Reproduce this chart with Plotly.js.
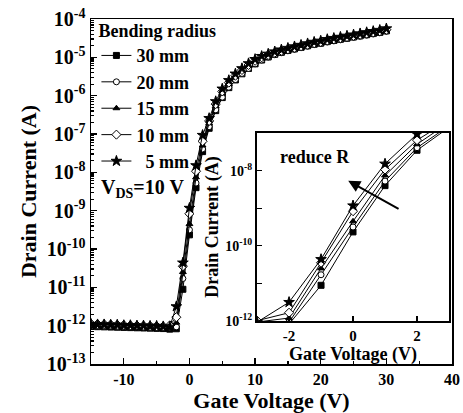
<!DOCTYPE html>
<html>
<head>
<meta charset="utf-8">
<script src="https://cdn.plot.ly/plotly-3.0.1.min.js"></script>
<style>
  html, body { margin: 0; padding: 0; background: #fff; }
  #chart { width: 463px; height: 413px; }
</style>
</head>
<body>
<div id="chart"></div>
<script>
// Gate voltage sweep (V)
const gateVoltage = [-15, -14, -13, -12, -11, -10, -9, -8, -7, -6, -5, -4, -3,
  -2, -1, 0, 1, 2, 3, 4, 5, 6, 7, 8, 9, 10, 11, 12, 13, 14, 15, 16, 17, 18, 19, 20,
  21, 22, 23, 24, 25, 26, 27, 28, 29, 30];

// Drain current (A) for each bending radius, VDS = 10 V
const current30mm = [9.6e-13, 9.4e-13, 9.3e-13, 9.2e-13, 9.1e-13, 9.0e-13, 8.9e-13, 8.8e-13, 8.7e-13, 8.6e-13, 8.5e-13, 8.4e-13, 8.1e-13,
  8.3e-13, 8.9e-12, 2.34e-10, 3.98e-9, 3.47e-8, 1.41e-7, 4.07e-7, 8.91e-7, 1.62e-6, 2.57e-6, 3.72e-6, 5.13e-6, 6.76e-6,
  8.51e-6, 1.02e-5, 1.20e-5, 1.35e-5, 1.51e-5, 1.66e-5, 1.82e-5, 2.00e-5, 2.19e-5, 2.34e-5,
  2.57e-5, 2.75e-5, 2.95e-5, 3.16e-5, 3.39e-5, 3.63e-5, 3.89e-5, 4.17e-5, 4.47e-5, 4.90e-5];

const current20mm = [1.00e-12, 9.8e-13, 9.7e-13, 9.6e-13, 9.5e-13, 9.4e-13, 9.3e-13, 9.2e-13, 9.1e-13, 9.0e-13, 8.9e-13, 8.8e-13, 8.9e-13,
  9.3e-13, 1.70e-11, 3.16e-10, 5.25e-9, 4.07e-8, 1.55e-7, 4.27e-7, 9.12e-7, 1.66e-6, 2.63e-6, 3.80e-6, 5.13e-6, 6.76e-6,
  8.51e-6, 1.02e-5, 1.17e-5, 1.32e-5, 1.48e-5, 1.62e-5, 1.78e-5, 1.95e-5, 2.14e-5, 2.29e-5,
  2.51e-5, 2.69e-5, 2.88e-5, 3.09e-5, 3.31e-5, 3.55e-5, 3.80e-5, 4.07e-5, 4.37e-5, 4.79e-5];

const current15mm = [1.05e-12, 1.04e-12, 1.02e-12, 1.01e-12, 1.00e-12, 9.9e-13, 9.8e-13, 9.7e-13, 9.5e-13, 9.4e-13, 9.3e-13, 9.2e-13, 9.4e-13,
  1.20e-12, 2.51e-11, 4.47e-10, 7.41e-9, 5.01e-8, 1.91e-7, 5.37e-7, 1.15e-6, 2.00e-6, 3.09e-6, 4.37e-6, 5.89e-6, 7.59e-6,
  9.33e-6, 1.10e-5, 1.26e-5, 1.41e-5, 1.55e-5, 1.70e-5, 1.86e-5, 2.04e-5, 2.24e-5, 2.40e-5,
  2.63e-5, 2.82e-5, 3.02e-5, 3.24e-5, 3.47e-5, 3.72e-5, 3.98e-5, 4.27e-5, 4.57e-5, 5.01e-5];

const current10mm = [1.12e-12, 1.10e-12, 1.09e-12, 1.07e-12, 1.05e-12, 1.04e-12, 1.02e-12, 1.01e-12, 1.00e-12, 9.8e-13, 9.7e-13, 9.6e-13, 1.02e-12,
  1.66e-12, 3.55e-11, 8.32e-10, 1.07e-8, 6.46e-8, 2.19e-7, 6.03e-7, 1.29e-6, 2.19e-6, 3.31e-6, 4.68e-6, 6.31e-6, 8.13e-6,
  1.00e-5, 1.15e-5, 1.32e-5, 1.48e-5, 1.62e-5, 1.78e-5, 1.95e-5, 2.14e-5, 2.34e-5, 2.51e-5,
  2.75e-5, 2.95e-5, 3.16e-5, 3.39e-5, 3.63e-5, 3.89e-5, 4.17e-5, 4.47e-5, 4.79e-5, 5.25e-5];

const current5mm = [1.10e-12, 1.07e-12, 1.07e-12, 1.05e-12, 1.05e-12, 1.02e-12, 1.02e-12, 1.00e-12, 1.00e-12, 9.8e-13, 9.8e-13, 9.5e-13, 9.3e-13,
  3.16e-12, 4.37e-11, 1.17e-9, 1.51e-8, 9.33e-8, 2.57e-7, 7.08e-7, 1.51e-6, 2.51e-6, 3.72e-6, 5.13e-6, 6.92e-6, 8.91e-6,
  1.07e-5, 1.23e-5, 1.41e-5, 1.58e-5, 1.74e-5, 1.91e-5, 2.09e-5, 2.29e-5, 2.51e-5, 2.69e-5,
  2.95e-5, 3.16e-5, 3.39e-5, 3.63e-5, 3.89e-5, 4.17e-5, 4.47e-5, 4.79e-5, 5.13e-5, 5.62e-5];

const seriesNames = ["30 mm", "20 mm", "15 mm", "10 mm", "\u20075 mm"];
const seriesValues = [current30mm, current20mm, current15mm, current10mm, current5mm];
const seriesSymbols = ["square", "circle", "triangle-up", "diamond", "star"];
const seriesFill = ["black", "white", "black", "white", "black"];
const seriesSize = [6, 6, 6, 7, 8];

// Axis tick labels
const mainXTicks = [-10, 0, 10, 20, 30, 40];
const mainYExp = [-13, -12, -11, -10, -9, -8, -7, -6, -5, -4];
const insetXTicks = [-2, 0, 2];
const insetYLabeled = [-12, -10, -8];
const insetYUnlabeled = [-11, -9, -7];

const FONT = "Liberation Serif, Times New Roman, serif";
const pow10Label = e => "10<sup>" + String(e) + "</sup>";

// Minor log ticks (2..9 within each decade)
const minorLog = [];
for (let e = -13; e < -4; e++) {
  for (let k = 2; k <= 9; k++) minorLog.push(k * Math.pow(10, e));
}

const traces = [];
seriesValues.forEach((vals, i) => {
  const marker = {
    symbol: seriesSymbols[i], size: seriesSize[i], color: seriesFill[i],
    line: { color: "black", width: 1 }
  };
  traces.push({
    x: gateVoltage, y: vals, name: seriesNames[i], type: "scatter", mode: "lines+markers",
    line: { color: "black", width: 1 }, marker: marker, xaxis: "x", yaxis: "y",
    legendgroup: "g" + i
  });
  traces.push({
    x: gateVoltage, y: vals, name: seriesNames[i], type: "scatter", mode: "lines+markers",
    line: { color: "black", width: 1 }, marker: marker, xaxis: "x2", yaxis: "y2",
    legendgroup: "g" + i, showlegend: false
  });
});

const tickFont = size => ({ family: FONT, size: size, color: "black", weight: "bold" });

const layout = {
  width: 463, height: 413,
  margin: { l: 91, r: 11, t: 19, b: 49 },
  paper_bgcolor: "white", plot_bgcolor: "white",
  showlegend: true,
  legend: {
    x: 0.015, y: 1.015, xanchor: "left", yanchor: "top",
    bgcolor: "rgba(0,0,0,0)", borderwidth: 0,
    traceorder: "grouped", tracegroupgap: 0,
    font: { family: FONT, size: 18, color: "black", weight: "bold" },
    title: { text: "Bending radius", font: { family: FONT, size: 18, color: "black", weight: "bold" } },
    itemwidth: 30
  },
  xaxis: {
    domain: [0, 1], anchor: "y", range: [-15, 40],
    tickmode: "array", tickvals: mainXTicks, ticktext: mainXTicks.map(String),
    ticks: "inside", ticklen: 6, tickwidth: 1.2, tickcolor: "black",
    minor: { tickmode: "array", tickvals: [-5, 5, 15, 25, 35], ticks: "inside", ticklen: 3, tickcolor: "black", showgrid: false },
    showline: true, linewidth: 1.5, linecolor: "black", mirror: true,
    showgrid: false, zeroline: false,
    tickfont: tickFont(16),
    title: { text: "Gate Voltage (V)", font: tickFont(22), standoff: 4 }
  },
  yaxis: {
    domain: [0, 1], anchor: "x", type: "log", range: [-13, -4],
    tickmode: "array", tickvals: mainYExp.map(e => Math.pow(10, e)), ticktext: mainYExp.map(pow10Label),
    ticks: "inside", ticklen: 6, tickwidth: 1.2, tickcolor: "black",
    minor: { tickmode: "array", tickvals: minorLog, ticks: "inside", ticklen: 3, tickcolor: "black", showgrid: false },
    showline: true, linewidth: 1.5, linecolor: "black", mirror: true,
    showgrid: false, zeroline: false,
    tickfont: tickFont(20),
    title: { text: "Drain Current (A)", font: tickFont(22), standoff: 4 }
  },
  xaxis2: {
    domain: [0.46, 0.9917], anchor: "y2", range: [-3, 3],
    tickmode: "array", tickvals: insetXTicks, ticktext: insetXTicks.map(String),
    ticks: "inside", ticklen: 5, tickwidth: 1.2, tickcolor: "black",
    showline: true, linewidth: 2, linecolor: "black", mirror: true,
    showgrid: false, zeroline: false,
    tickfont: tickFont(15),
    title: { text: "Gate Voltage (V)", font: tickFont(18), standoff: 2 }
  },
  yaxis2: {
    domain: [0.1246, 0.6696], anchor: "x2", type: "log", range: [-12, -7],
    tickmode: "array", tickvals: insetYLabeled.map(e => Math.pow(10, e)),
    ticktext: insetYLabeled.map(pow10Label),
    ticks: "inside", ticklen: 5, tickwidth: 1.2, tickcolor: "black",
    minor: { tickmode: "array", tickvals: insetYUnlabeled.map(e => Math.pow(10, e)), ticks: "inside", ticklen: 5, tickcolor: "black", showgrid: false },
    showline: true, linewidth: 2, linecolor: "black", mirror: true,
    showgrid: false, zeroline: false,
    tickfont: tickFont(14),
    title: { text: "Drain Current (A)", font: tickFont(18), standoff: 2 }
  },
  annotations: [
    {
      xref: "paper", yref: "paper", x: 0.022, y: 0.51, xanchor: "left", yanchor: "middle",
      text: "V<sub>DS</sub>=10 V", showarrow: false,
      font: { family: FONT, size: 20, color: "black", weight: "bold" }
    },
    {
      xref: "x2", yref: "y2", x: -2.35, y: -7.65, xanchor: "left", yanchor: "middle",
      text: "reduce R", showarrow: false,
      font: { family: FONT, size: 18, color: "black", weight: "bold" }
    },
    {
      xref: "x2", yref: "y2", x: -0.15, y: -8.27,
      axref: "x2", ayref: "y2", ax: 1.47, ay: -9.04,
      text: "", showarrow: true, arrowhead: 2, arrowsize: 1.2, arrowwidth: 2, arrowcolor: "black"
    }
  ]
};

Plotly.newPlot("chart", traces, layout, { displayModeBar: false, staticPlot: true });
</script>
</body>
</html>
